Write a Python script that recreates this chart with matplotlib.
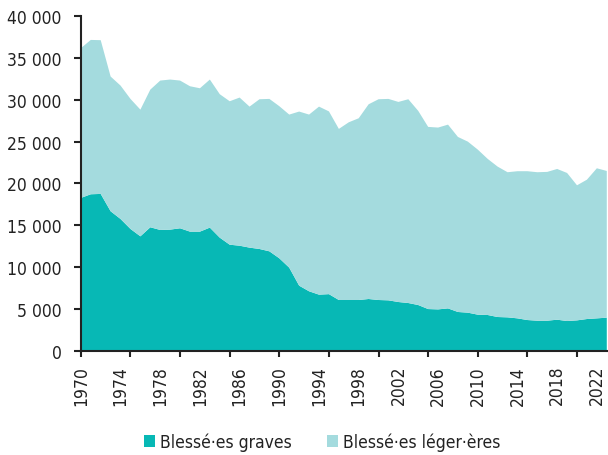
import numpy as np
import matplotlib.pyplot as plt
from matplotlib.ticker import FixedLocator, FuncFormatter

years = list(range(1970, 2024))

# total injured (top of the stack)
total = [36140, 37130, 37100, 32760, 31680, 30090, 28810, 31200, 32280, 32400,
         32280, 31600, 31360, 32400, 30650, 29810, 30250, 29170, 30050, 30090,
         29220, 28220, 28580, 28220, 29170, 28600, 26510, 27300, 27780, 29450,
         30050, 30090, 29730, 30050, 28660, 26750, 26670, 27020, 25550, 24990,
         24040, 22930, 22010, 21340, 21460, 21460, 21340, 21380, 21730, 21250,
         19780, 20450, 21810, 21490]

graves = [18270, 18710, 18750, 16680, 15760, 14570, 13690, 14770, 14450, 14490,
          14650, 14250, 14250, 14730, 13530, 12690, 12570, 12340, 12180, 11900,
          11070, 9950, 7800, 7130, 6730, 6790, 6090, 6090, 6090, 6210,
          6090, 6050, 5850, 5730, 5490, 5010, 4970, 5090, 4660, 4580,
          4340, 4300, 4060, 4020, 3900, 3700, 3620, 3620, 3740, 3580,
          3660, 3820, 3900, 3980]

legers = [t - g for t, g in zip(total, graves)]

labels = ["Blessé·es graves", "Blessé·es léger·ères"]
colors = ["#07b8b5", "#a4dbde"]

plt.rcParams['font.family'] = ['DejaVu Sans']
plt.rcParams['font.stretch'] = 'condensed'

fig = plt.figure(figsize=(6.08, 4.56), dpi=100)
ax = fig.add_axes([0.133, 0.228, 0.865, 0.735])

ax.stackplot(years, graves, legers, colors=colors, labels=labels, linewidth=0)

ax.set_xlim(1970, 2023)
ax.set_ylim(0, 40000)

ax.yaxis.set_major_locator(FixedLocator(range(0, 40001, 5000)))
ax.yaxis.set_major_formatter(FuncFormatter(lambda v, p: f"{int(v):,}".replace(",", " ")))

# ticks every 5 years, labels every 4 years
ax.xaxis.remove_overlapping_locs = False
ax.xaxis.set_major_locator(FixedLocator(range(1970, 2021, 5)))
ax.xaxis.set_major_formatter(FuncFormatter(lambda v, p: ""))
ax.xaxis.set_minor_locator(FixedLocator(range(1970, 2023, 4)))
ax.xaxis.set_minor_formatter(FuncFormatter(lambda v, p: str(int(v))))
ax.tick_params(axis='x', which='minor', length=0, labelsize=12.5, labelrotation=90,
               colors='#222222', pad=10)
ax.tick_params(axis='x', which='major', length=4.5, width=1.5, color='#222222')
ax.tick_params(axis='y', length=5, width=1.5, color='#222222', labelsize=12.5,
               labelcolor='#222222', pad=9)

for s in ['top', 'right']:
    ax.spines[s].set_visible(False)
for s in ['left', 'bottom']:
    ax.spines[s].set_linewidth(1.5)
    ax.spines[s].set_color('#222222')

fig.legend(loc='center', bbox_to_anchor=(0.53, 0.029), ncol=2, frameon=False,
           fontsize=12.5, handlelength=0.65, handleheight=0.65, handletextpad=0.3,
           columnspacing=2.0, labelcolor='#222222', borderaxespad=0)

fig.savefig("out.png", dpi=100)
